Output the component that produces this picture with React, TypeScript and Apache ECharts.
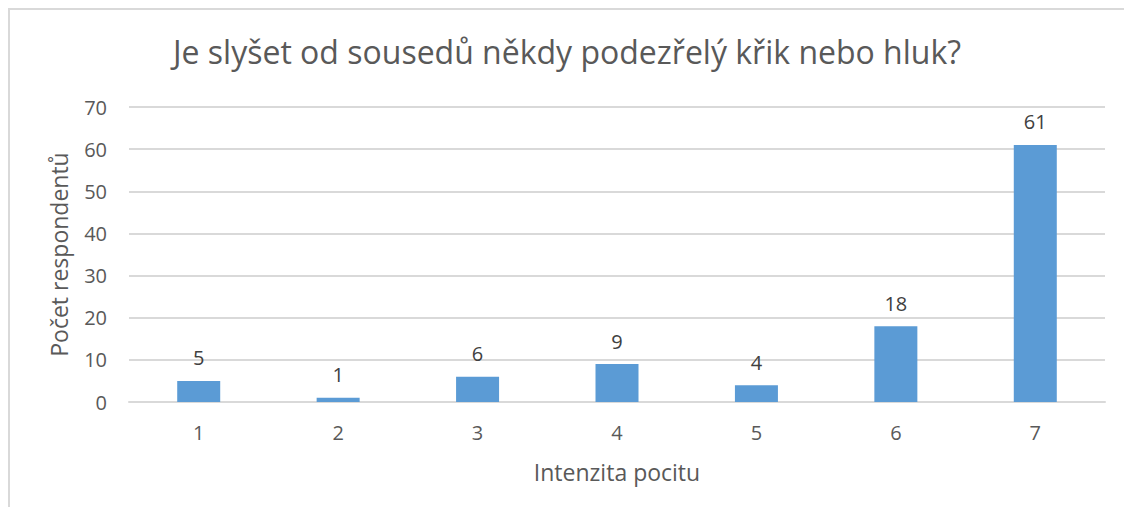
import React, { useEffect, useRef } from "react";
import * as echarts from "echarts";

const categories = ["1", "2", "3", "4", "5", "6", "7"];
const values = [5, 1, 6, 9, 4, 18, 61];
const titleText = "Je slyšet od sousedů někdy podezřelý křik nebo hluk?";
const xName = "Intenzita pocitu";
const yName = "Počet respondentů";

const FONT = "Open Sans";
const TXT = "#595959";

export default function App() {
  const ref = useRef<HTMLDivElement>(null);
  useEffect(() => {
    if (!ref.current) return;
    const chart = echarts.init(ref.current, undefined, { renderer: "svg" });
    chart.setOption({
      animation: false,
      textStyle: { fontFamily: FONT },
      title: {
        text: titleText,
        left: "center",
        top: 20,
        textStyle: { fontFamily: FONT, fontSize: 32, fontWeight: "normal", color: TXT },
      },
      grid: { left: 119, right: 19, top: 97, bottom: 105, containLabel: false },
      xAxis: {
        type: "category",
        data: categories,
        name: xName,
        nameLocation: "middle",
        nameGap: 58,
        nameTextStyle: { fontFamily: FONT, fontSize: 23, color: TXT },
        axisLine: { lineStyle: { color: "#d9d9d9", width: 2 } },
        axisTick: { show: false },
        axisLabel: { fontFamily: FONT, fontSize: 20, color: TXT, margin: 20 },
      },
      yAxis: {
        type: "value",
        min: 0,
        max: 70,
        interval: 10,
        name: yName,
        nameLocation: "middle",
        nameGap: 59,
        nameTextStyle: { fontFamily: FONT, fontSize: 23, color: TXT },
        axisLine: { show: false },
        axisTick: { show: false },
        axisLabel: { fontFamily: FONT, fontSize: 20, color: TXT, margin: 22 },
        splitLine: { lineStyle: { color: "#d9d9d9", width: 2 } },
      },
      series: [
        {
          type: "bar",
          data: values,
          barWidth: 43,
          itemStyle: { color: "#5B9BD5" },
          label: {
            show: true,
            position: "top",
            distance: 13,
            fontFamily: FONT,
            fontSize: 20,
            color: "#404040",
          },
        },
      ],
    });
    return () => chart.dispose();
  }, []);
  return (
    <div
      style={{
        width: 1116,
        height: 499,
        borderTop: "2px solid #d9d9d9",
        borderLeft: "2px solid #d9d9d9",
        boxSizing: "border-box",
        overflow: "hidden",
      }}
    >
      <div ref={ref} style={{ width: 1114, height: 497 }} />
    </div>
  );
}
